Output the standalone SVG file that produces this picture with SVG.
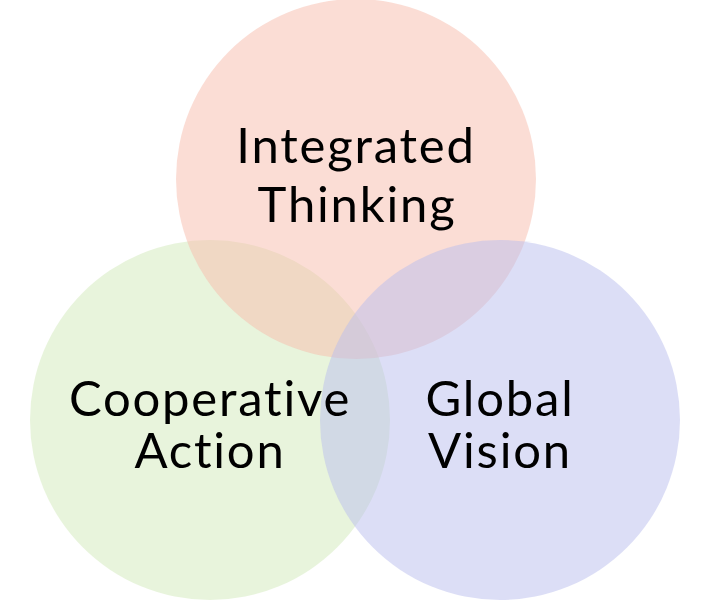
<svg xmlns="http://www.w3.org/2000/svg" width="712" height="600" viewBox="0 0 712 600">
<style>
.c{opacity:0.5}
.t{font-family:Lato,"Noto Sans",sans-serif;font-size:49px;fill:#000;text-anchor:middle;letter-spacing:1.8px}
</style>
<rect width="712" height="600" fill="#fff"/>
<g id="cooperative-action">
<circle class="c" cx="210" cy="420" r="180" fill="#d1e9b9"/>
</g>
<g id="integrated-thinking">
<circle class="c" cx="356" cy="179" r="180" fill="#f7bbab"/>
</g>
<g id="global-vision">
<circle class="c" cx="500" cy="420" r="180" fill="#b9bded"/>
</g>
<g id="labels">
<text class="t" x="356" y="163">Integrated</text>
<text class="t" x="357" y="222">Thinking</text>
<text class="t" x="210" y="416">Cooperative</text>
<text class="t" x="210" y="468">Action</text>
<text class="t" x="500" y="416">Global</text>
<text class="t" x="500" y="468">Vision</text>
</g>
<g id="connectors"></g>
</svg>
